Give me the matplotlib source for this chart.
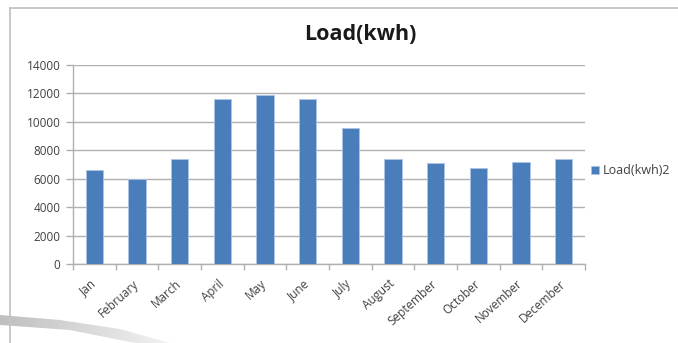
import numpy as np
import matplotlib
matplotlib.use("Agg")
import matplotlib.pyplot as plt
from matplotlib.lines import Line2D
from matplotlib.patches import Polygon

months = ["Jan", "February", "March", "April", "May", "June", "July",
          "August", "September", "October", "November", "December"]
load_kwh = [6600, 6000, 7400, 11600, 11900, 11600, 9600,
            7400, 7100, 6750, 7200, 7400]
yticks = [0, 2000, 4000, 6000, 8000, 10000, 12000, 14000]

BLUE = "#4a7ebb"
GRID = "#b0b0b0"
TXT = "#404040"
W, H = 678, 343
plt.rcParams["font.family"] = ["Open Sans", "DejaVu Sans"]

fig = plt.figure(figsize=(W / 100, H / 100), dpi=100)
ax = fig.add_axes([73 / W, 1 - 264 / H, (585 - 73) / W, (264 - 65) / H])

x = np.arange(len(months))
ax.bar(x, load_kwh, width=0.4, color=BLUE, edgecolor="#a9c4e6",
       linewidth=0.6, zorder=3, label="Load(kwh)2")

ax.set_xlim(-0.5, len(months) - 0.5)
ax.set_ylim(0, 14000)
ax.set_yticks(yticks)
ax.set_yticklabels([str(v) for v in yticks], fontsize=8.5, color=TXT)
ax.yaxis.grid(True, color=GRID, linewidth=1.0, zorder=0)
ax.tick_params(axis="y", length=5, width=1, color=GRID, pad=4)

# labels on category centres, tick marks on category boundaries
ax.set_xticks(x)
ax.set_xticklabels(months, rotation=42, ha="right", va="center",
                   rotation_mode="anchor", fontsize=8.5, color=TXT)
ax.tick_params(axis="x", which="major", length=0, pad=13)
ax.set_xticks(np.arange(-0.5, len(months)), minor=True)
ax.tick_params(axis="x", which="minor", length=4, width=1, color=GRID)

for s in ["top", "right"]:
    ax.spines[s].set_visible(False)
for s in ["left", "bottom"]:
    ax.spines[s].set_color(GRID)
    ax.spines[s].set_linewidth(1.0)

fig.text(360 / W, 1 - 35 / H, "Load(kwh)", ha="center", va="center",
         fontsize=15.5, fontweight="bold", color="#1a1a1a")

ax.legend(loc="center left", bbox_to_anchor=(1.0, 0.47), frameon=False,
          fontsize=9, handlelength=0.6, handleheight=0.6,
          handletextpad=0.35, labelcolor=TXT, borderaxespad=0.1)

# chart frame
fig.add_artist(Line2D([10 / W, 10 / W], [0.0, 1 - 8 / H], color="#c4c4c4", lw=1.3))
fig.add_artist(Line2D([10 / W, 1.0], [1 - 8 / H, 1 - 8 / H], color="#c4c4c4", lw=1.3))

# page-curl shadow: grey band fading out to the right
shadow = [(0, 315), (60, 320), (120, 329), (170, 343), (135, 343),
          (70, 330), (0, 325)]
band = Polygon([(px / W, 1 - py / H) for px, py in shadow], closed=True,
               transform=fig.transFigure, facecolor="none", edgecolor="none")
fig.add_artist(band)
fade = np.linspace(0.9, 0.15, 200)[None, :]
rgba = np.zeros((1, 200, 4))
rgba[..., :3] = 0.72
rgba[..., 3] = fade
bg = fig.add_axes([0, 0, 1, 1], zorder=-1)
bg.axis("off")
im = bg.imshow(rgba, extent=(0, 175 / W, 0, 30 / H), aspect="auto",
               transform=fig.transFigure)
im.set_clip_path(band)
bg.set_xlim(0, 1)
bg.set_ylim(0, 1)

fig.savefig("out.png", dpi=100)
